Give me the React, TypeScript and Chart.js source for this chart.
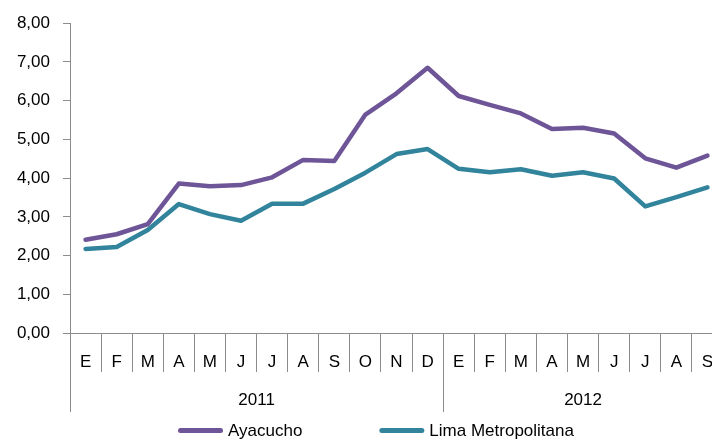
import React, { useEffect, useRef } from "react";
import { Chart, registerables } from "chart.js";

Chart.register(...registerables);

const months = ["E", "F", "M", "A", "M", "J", "J", "A", "S", "O", "N", "D", "E", "F", "M", "A", "M", "J", "J", "A", "S"];
const yearLabels = ["2011", "2012"];
const yearStartIndex = [0, 12];
const ayacucho = [2.41, 2.55, 2.81, 3.86, 3.79, 3.82, 4.02, 4.47, 4.44, 5.64, 6.19, 6.85, 6.12, 5.89, 5.67, 5.27, 5.3, 5.15, 4.51, 4.27, 4.58];
const lima = [2.17, 2.22, 2.66, 3.33, 3.07, 2.9, 3.34, 3.34, 3.72, 4.14, 4.62, 4.75, 4.24, 4.15, 4.23, 4.06, 4.15, 3.99, 3.27, 3.51, 3.76];
const seriesNames = ["Ayacucho", "Lima Metropolitana"];
const yMin = 0;
const yMax = 8;
const yStep = 1;

const FONT = '"Liberation Sans", Arial, sans-serif';
const AXIS = "#8c8c8c";
const PURPLE = "#6e5597";
const TEAL = "#31849b";

const yearRowPlugin = {
  id: "yearRow",
  afterDraw(chart: any) {
    const { ctx, chartArea } = chart;
    const xs = chart.scales.x;
    const n = months.length;
    const w = (xs.right - xs.left) / n;
    const b = (i: number) => xs.left + i * w;
    const top = chartArea.bottom;
    ctx.save();
    ctx.strokeStyle = AXIS;
    ctx.lineWidth = 1;
    const bounds = [...yearStartIndex, n];
    bounds.forEach((i) => {
      const px = Math.round(b(i)) + 0.5;
      ctx.beginPath();
      ctx.moveTo(px, top);
      ctx.lineTo(px, top + 79);
      ctx.stroke();
    });
    ctx.fillStyle = "#000";
    ctx.font = `17px ${FONT}`;
    ctx.textAlign = "center";
    ctx.textBaseline = "middle";
    yearLabels.forEach((lab, k) => {
      const s = bounds[k];
      const e = bounds[k + 1];
      ctx.fillText(lab, (b(s) + b(e)) / 2, top + 67.5);
    });

    // legend
    const items = chart.data.datasets.map((ds: any) => ({ text: ds.label, color: ds.borderColor }));
    const lineW = 45;
    const gapT = 5;
    const gapItems = 77;
    const widths = items.map((it: any) => lineW + gapT + ctx.measureText(it.text).width);
    let cx = 178;
    const cy = 430.5;
    items.forEach((it: any, i: number) => {
      ctx.strokeStyle = it.color;
      ctx.lineWidth = 5;
      ctx.lineCap = "round";
      ctx.beginPath();
      ctx.moveTo(cx + 2.5, cy);
      ctx.lineTo(cx + lineW - 2.5, cy);
      ctx.stroke();
      ctx.fillStyle = "#000";
      ctx.textAlign = "left";
      ctx.fillText(it.text, cx + lineW + gapT, cy + 1);
      cx += widths[i] + gapItems;
    });
    ctx.restore();
  },
};

export default function App() {
  const ref = useRef<HTMLCanvasElement | null>(null);
  useEffect(() => {
    if (!ref.current) return;
    const chart = new Chart(ref.current, {
      type: "line",
      data: {
        labels: months,
        datasets: [
          {
            label: seriesNames[0],
            data: ayacucho,
            borderColor: PURPLE,
            backgroundColor: PURPLE,
            borderWidth: 4.5,
            pointRadius: 0,
            tension: 0,
            borderJoinStyle: "round",
            borderCapStyle: "round",
          },
          {
            label: seriesNames[1],
            data: lima,
            borderColor: TEAL,
            backgroundColor: TEAL,
            borderWidth: 4.5,
            pointRadius: 0,
            tension: 0,
            borderJoinStyle: "round",
            borderCapStyle: "round",
          },
        ],
      },
      options: {
        animation: false,
        responsive: false,
        layout: { padding: { left: 17, top: 22, right: 0, bottom: 68 } },
        plugins: { legend: { display: false }, tooltip: { enabled: false } },
        scales: {
          x: {
            type: "category",
            offset: true,
            afterFit: (s: any) => {
              s.height = 40;
            },
            grid: { display: true, offset: true, drawOnChartArea: false, drawTicks: true, tickLength: 39, color: AXIS, lineWidth: 1 },
            border: { display: true, color: AXIS, width: 1 },
            ticks: {
              autoSkip: false,
              maxRotation: 0,
              minRotation: 0,
              padding: -20.2,
              color: "#000",
              font: { family: FONT, size: 17 },
            },
          },
          y: {
            min: yMin,
            max: yMax,
            afterFit: (s: any) => {
              s.width = 53;
            },
            grid: { display: true, drawOnChartArea: false, drawTicks: true, tickLength: 7, color: AXIS, lineWidth: 1 },
            border: { display: true, color: AXIS, width: 1 },
            ticks: {
              stepSize: yStep,
              padding: 13,
              color: "#000",
              font: { family: FONT, size: 17 },
              callback: (v: any) => Number(v).toFixed(2).replace(".", ","),
            },
          },
        },
      },
      plugins: [yearRowPlugin],
    });
    return () => chart.destroy();
  }, []);
  return (
    <div style={{ position: "fixed", left: 0, top: 0, width: 712, height: 441, overflow: "hidden", background: "#fff" }}>
      <canvas ref={ref} width={723} height={441} style={{ width: 723, height: 441, display: "block" }} />
    </div>
  );
}
